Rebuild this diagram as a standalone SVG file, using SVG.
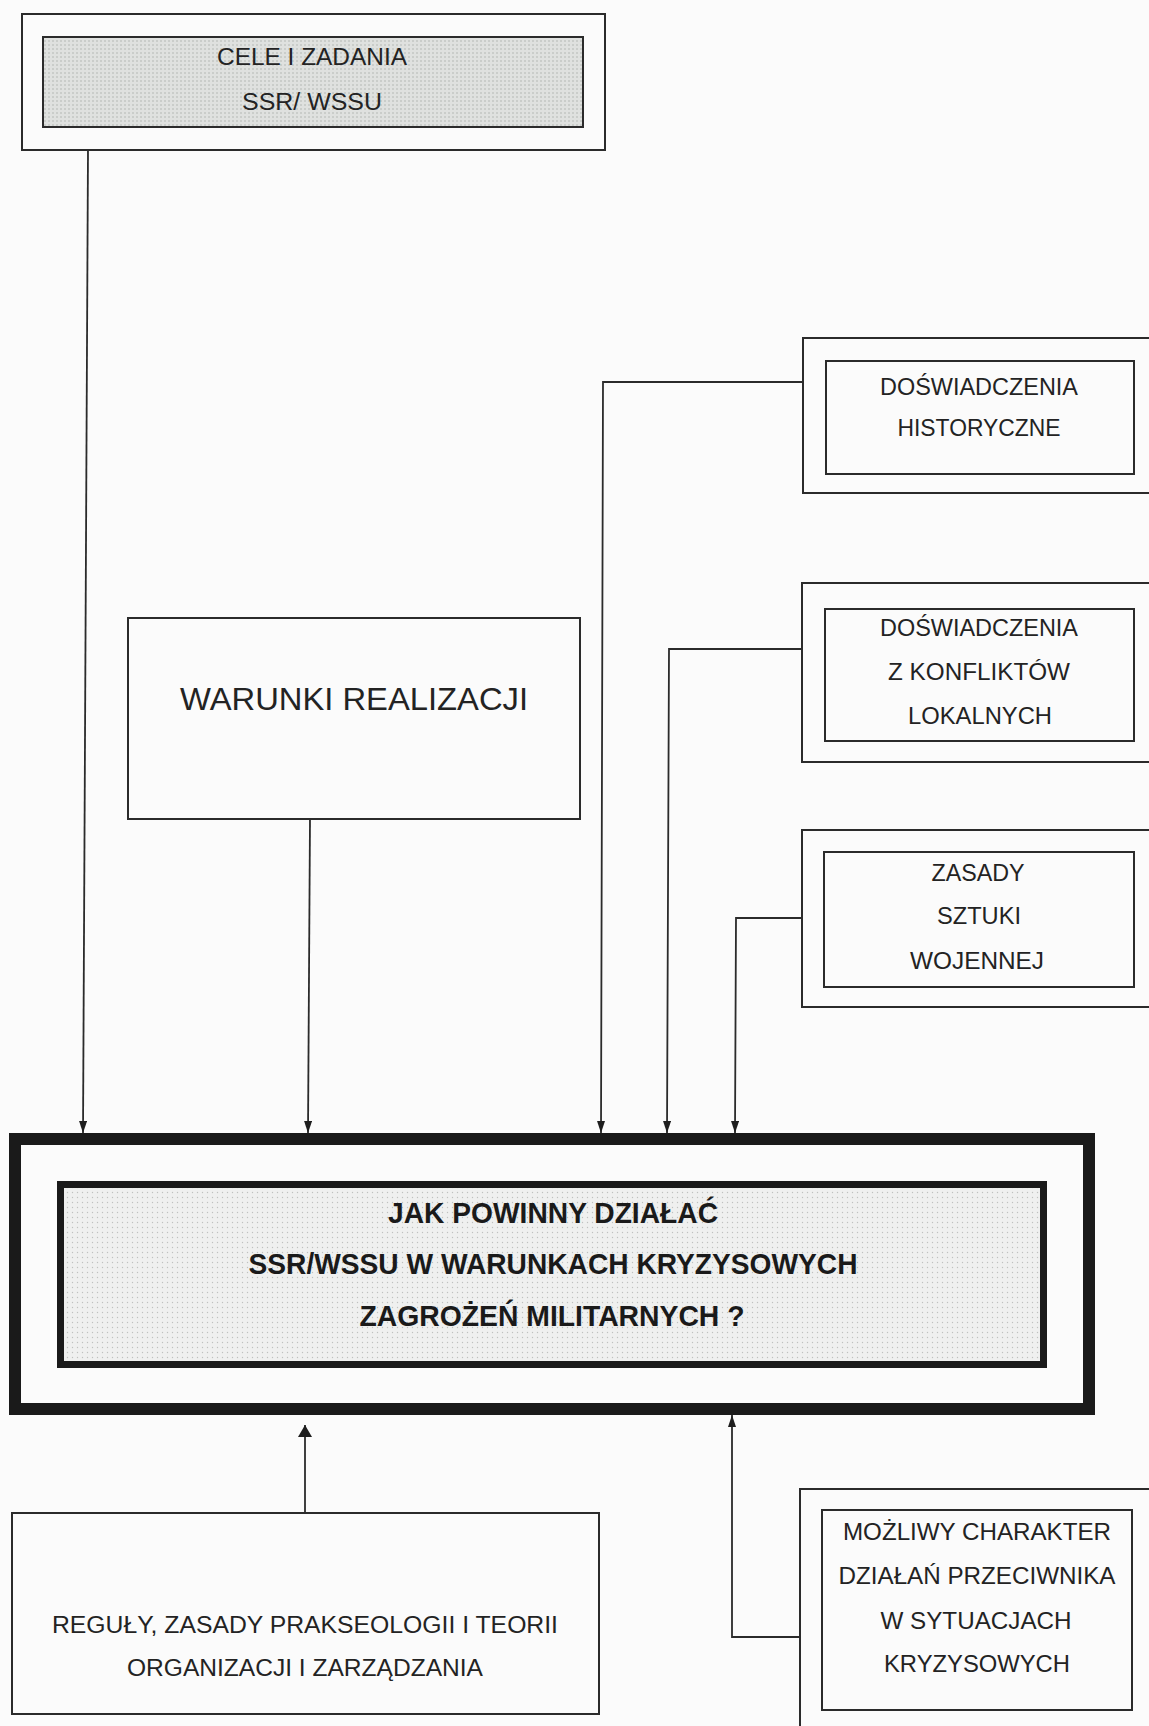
<svg xmlns="http://www.w3.org/2000/svg" width="1149" height="1726" viewBox="0 0 1149 1726">
<defs>
<pattern id="xhatch" width="4" height="4" patternUnits="userSpaceOnUse">
<rect width="4" height="4" fill="#dfe1df"/>
<path d="M0,0 L2,2 M2,0 L0,2" stroke="#c2c4c2" stroke-width="0.7"/>
</pattern>
<pattern id="dots" width="5" height="5" patternUnits="userSpaceOnUse">
<rect width="5" height="5" fill="#eff0ef"/>
<circle cx="2.5" cy="2.5" r="0.7" fill="#bfc1bf"/>
</pattern>
<marker id="arr" viewBox="0 0 12 8" refX="12" refY="4" markerWidth="12" markerHeight="8" markerUnits="userSpaceOnUse" orient="auto">
<path d="M0,0 L12,4 L0,8 z" fill="#1e1e1e"/>
</marker>
<marker id="arrbig" viewBox="0 0 12 14" refX="12" refY="7" markerWidth="12" markerHeight="14" markerUnits="userSpaceOnUse" orient="auto">
<path d="M0,0 L12,7 L0,14 z" fill="#1e1e1e"/>
</marker>
</defs>
<style>
.box{fill:none;stroke:#2b2b2b;stroke-width:2}
.conn{fill:none;stroke:#2b2b2b;stroke-width:1.8}
.t{font-family:"Liberation Sans",Arial,sans-serif;fill:#232323;text-anchor:middle}
.b{font-family:"Liberation Sans",Arial,sans-serif;font-weight:bold;fill:#1a1a1a;text-anchor:middle}
</style>
<rect x="0" y="0" width="1149" height="1726" fill="#fbfbfb"/>

<g id="cele">
<rect class="box" x="22" y="14" width="583" height="136"/>
<rect x="43" y="37" width="540" height="90" fill="url(#xhatch)" stroke="#2b2b2b" stroke-width="2"/>
<text class="t" x="312" y="65" font-size="23" textLength="190" lengthAdjust="spacingAndGlyphs">CELE I ZADANIA</text>
<text class="t" x="312" y="110" font-size="23" textLength="140" lengthAdjust="spacingAndGlyphs">SSR/ WSSU</text>
</g>

<g id="warunki">
<rect class="box" x="128" y="618" width="452" height="201"/>
<text class="t" x="354" y="710" font-size="32" textLength="348" lengthAdjust="spacingAndGlyphs">WARUNKI REALIZACJI</text>
</g>

<g id="historyczne">
<rect class="box" x="803" y="338" width="360" height="155"/>
<rect class="box" x="826" y="361" width="308" height="113"/>
<text class="t" x="979" y="395" font-size="24" textLength="198" lengthAdjust="spacingAndGlyphs">DOŚWIADCZENIA</text>
<text class="t" x="979" y="436" font-size="24" textLength="163" lengthAdjust="spacingAndGlyphs">HISTORYCZNE</text>
</g>

<g id="konflikty">
<rect class="box" x="802" y="583" width="360" height="179"/>
<rect class="box" x="825" y="609" width="309" height="132"/>
<text class="t" x="979" y="636" font-size="24" textLength="198" lengthAdjust="spacingAndGlyphs">DOŚWIADCZENIA</text>
<text class="t" x="979" y="680" font-size="24" textLength="182" lengthAdjust="spacingAndGlyphs">Z KONFLIKTÓW</text>
<text class="t" x="980" y="724" font-size="24" textLength="144" lengthAdjust="spacingAndGlyphs">LOKALNYCH</text>
</g>

<g id="zasady">
<rect class="box" x="802" y="830" width="360" height="177"/>
<rect class="box" x="824" y="852" width="310" height="135"/>
<text class="t" x="978" y="881" font-size="24" textLength="93" lengthAdjust="spacingAndGlyphs">ZASADY</text>
<text class="t" x="979" y="924" font-size="24" textLength="84" lengthAdjust="spacingAndGlyphs">SZTUKI</text>
<text class="t" x="977" y="969" font-size="24" textLength="134" lengthAdjust="spacingAndGlyphs">WOJENNEJ</text>
</g>

<g id="jak">
<rect x="15" y="1139" width="1074" height="270" fill="none" stroke="#1a1a1a" stroke-width="12"/>
<rect x="60.5" y="1184.5" width="983" height="180" fill="url(#dots)" stroke="#1a1a1a" stroke-width="7"/>
<text class="b" x="553" y="1223" font-size="30" textLength="330" lengthAdjust="spacingAndGlyphs">JAK POWINNY DZIAŁAĆ</text>
<text class="b" x="553" y="1274" font-size="30" textLength="609" lengthAdjust="spacingAndGlyphs">SSR/WSSU W WARUNKACH KRYZYSOWYCH</text>
<text class="b" x="552" y="1326" font-size="30" textLength="385" lengthAdjust="spacingAndGlyphs">ZAGROŻEŃ MILITARNYCH ?</text>
</g>

<g id="reguly">
<rect class="box" x="12" y="1513" width="587" height="201"/>
<text class="t" x="305" y="1633" font-size="23" textLength="506" lengthAdjust="spacingAndGlyphs">REGUŁY, ZASADY PRAKSEOLOGII I TEORII</text>
<text class="t" x="305" y="1676" font-size="23" textLength="356" lengthAdjust="spacingAndGlyphs">ORGANIZACJI I ZARZĄDZANIA</text>
</g>

<g id="przeciwnik">
<rect class="box" x="800" y="1489" width="360" height="250"/>
<rect class="box" x="822" y="1510" width="310" height="200"/>
<text class="t" x="977" y="1540" font-size="24" textLength="268" lengthAdjust="spacingAndGlyphs">MOŻLIWY CHARAKTER</text>
<text class="t" x="977" y="1584" font-size="24" textLength="277" lengthAdjust="spacingAndGlyphs">DZIAŁAŃ PRZECIWNIKA</text>
<text class="t" x="976" y="1629" font-size="24" textLength="191" lengthAdjust="spacingAndGlyphs">W SYTUACJACH</text>
<text class="t" x="977" y="1672" font-size="24" textLength="186" lengthAdjust="spacingAndGlyphs">KRYZYSOWYCH</text>
</g>

<g id="connectors">
<path class="conn" d="M88,150 L83,1133" marker-end="url(#arr)"/>
<path class="conn" d="M310,819 L308,1133" marker-end="url(#arr)"/>
<path class="conn" d="M803,382 L603,382 L601,1133" marker-end="url(#arr)"/>
<path class="conn" d="M802,649 L669,649 L667,1133" marker-end="url(#arr)"/>
<path class="conn" d="M802,918 L736,918 L735,1133" marker-end="url(#arr)"/>
<path class="conn" d="M305,1513 L305,1425" marker-end="url(#arrbig)"/>
<path class="conn" d="M800,1637 L732,1637 L732,1415" marker-end="url(#arr)"/>
</g>
</svg>
